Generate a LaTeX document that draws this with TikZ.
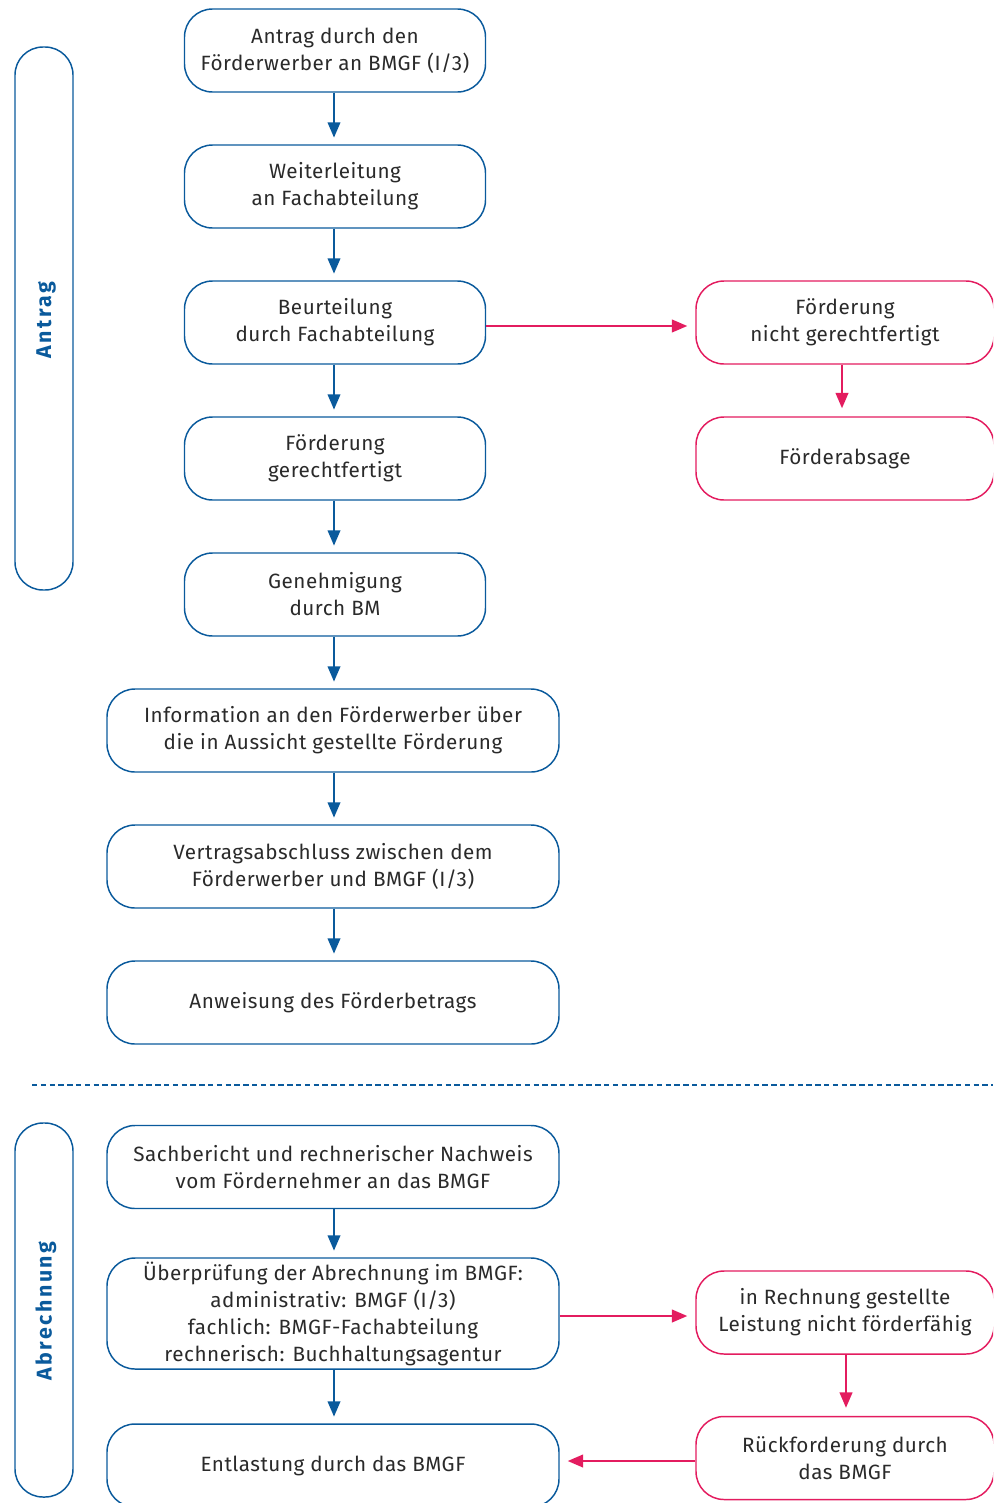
\documentclass[tikz,border=0pt]{standalone}
\usepackage{fontspec}
\setmainfont[LetterSpace=2.5]{Fira Sans}
\newfontfamily\sidefont[LetterSpace=12]{Fira Sans}
\usetikzlibrary{arrows.meta}
\definecolor{bblue}{HTML}{0A5A9C}
\definecolor{rred}{HTML}{E31C5F}
\definecolor{txt}{HTML}{2A2A2A}
\tikzset{
  box/.style={draw=bblue, line width=1.1pt, rounded corners=21pt, inner sep=0pt,
    minimum height=62.25pt, align=center, text=txt, font=\fontsize{15.5}{20.25}\selectfont},
  smallbox/.style={box, minimum width=225.75pt},
  widebox/.style={box, minimum width=339pt},
  redbox/.style={box, draw=rred, minimum width=223.5pt},
  sidebox/.style={draw=bblue, line width=1.1pt, rounded corners=21pt, minimum width=43.5pt, inner sep=0pt},
  sidelabel/.style={text=bblue, rotate=90, font=\sidefont\bfseries\fontsize{16}{18}\selectfont},
  barrow/.style={draw=bblue, line width=1.4pt, -{Triangle[length=11.5pt,width=9.5pt]}, shorten >=5pt},
  rarrow/.style={draw=rred, line width=1.4pt, -{Triangle[length=11.5pt,width=9.5pt]}, shorten >=6pt}
}
\begin{document}
\begin{tikzpicture}[x=0.75pt,y=-0.75pt]
\useasboundingbox (0,0) rectangle (993,1503);
\clip (0,0) rectangle (993,1503);
% side boxes
\node[sidebox, minimum height=407.25pt] (sa) at (44,318.5) {};
\node[sidelabel] (la) at (46,320) {Antrag};
\node[sidebox, minimum height=280.5pt] (sb) at (44,1310) {};
\node[sidelabel] (lb) at (46,1311) {Abrechnung};
% main column
\node[smallbox] (b1) at (335,50.5) {Antrag durch den\\Förderwerber an BMGF (I/3)};
\node[smallbox] (b2) at (335,186.5) {Weiterleitung\\an Fachabteilung};
\node[smallbox] (b3) at (335,322.5) {Beurteilung\\durch Fachabteilung};
\node[smallbox] (b4) at (335,458.5) {Förderung\\gerechtfertigt};
\node[smallbox] (b5) at (335,594.5) {Genehmigung\\durch BM};
\node[widebox] (b6) at (333,730.5) {Information an den Förderwerber über\\die in Aussicht gestellte Förderung};
\node[widebox] (b7) at (333,866.5) {Vertragsabschluss zwischen dem\\Förderwerber und BMGF (I/3)};
\node[widebox] (b8) at (333,1002.5) {Anweisung des Förderbetrags};
\node[widebox] (b9) at (333,1167) {Sachbericht und rechnerischer Nachweis\\vom Fördernehmer an das BMGF};
\node[widebox, minimum height=83.25pt] (b10) at (333,1313.5) {Überprüfung der Abrechnung im BMGF:\\administrativ: BMGF (I/3)\\fachlich: BMGF-Fachabteilung\\rechnerisch: Buchhaltungsagentur};
\node[widebox] (b11) at (333,1465.5) {Entlastung durch das BMGF};
% right column
\node[redbox] (r1) at (845,322.5) {Förderung\\nicht gerechtfertigt};
\node[redbox] (r2) at (845,458.5) {Förderabsage};
\node[redbox] (r3) at (845,1312.5) {in Rechnung gestellte\\Leistung nicht förderfähig};
\node[redbox] (r4) at (845,1458) {Rückforderung durch\\das BMGF};
% divider
\coordinate (dl) at (32,1085);
\coordinate (dr) at (993,1085);
\draw[bblue, line width=1.1pt, dash pattern=on 4pt off 2.6pt] (dl) -- (dr);
% blue arrows
\draw[barrow] (b1.south -| 334,0) -- (b2.north -| 334,0);
\draw[barrow] (b2.south -| 334,0) -- (b3.north -| 334,0);
\draw[barrow] (b3.south -| 334,0) -- (b4.north -| 334,0);
\draw[barrow] (b4.south -| 334,0) -- (b5.north -| 334,0);
\draw[barrow] (b5.south -| 334,0) -- (b6.north -| 334,0);
\draw[barrow] (b6.south -| 334,0) -- (b7.north -| 334,0);
\draw[barrow] (b7.south -| 334,0) -- (b8.north -| 334,0);
\draw[barrow] (b9.south -| 334,0) -- (b10.north -| 334,0);
\draw[barrow] (b10.south -| 334,0) -- (b11.north -| 334,0);
% red arrows
\draw[rarrow] (b3.east |- 0,326) -- (r1.west |- 0,326);
\draw[rarrow] (r1.south -| 842,0) -- (r2.north -| 842,0);
\draw[rarrow] (b10.east |- 0,1316) -- (r3.west |- 0,1316);
\draw[rarrow] (r3.south -| 846,0) -- (r4.north -| 846,0);
\draw[rarrow] (r4.west |- 0,1461) -- (b11.east |- 0,1461);
\end{tikzpicture}
\end{document}
